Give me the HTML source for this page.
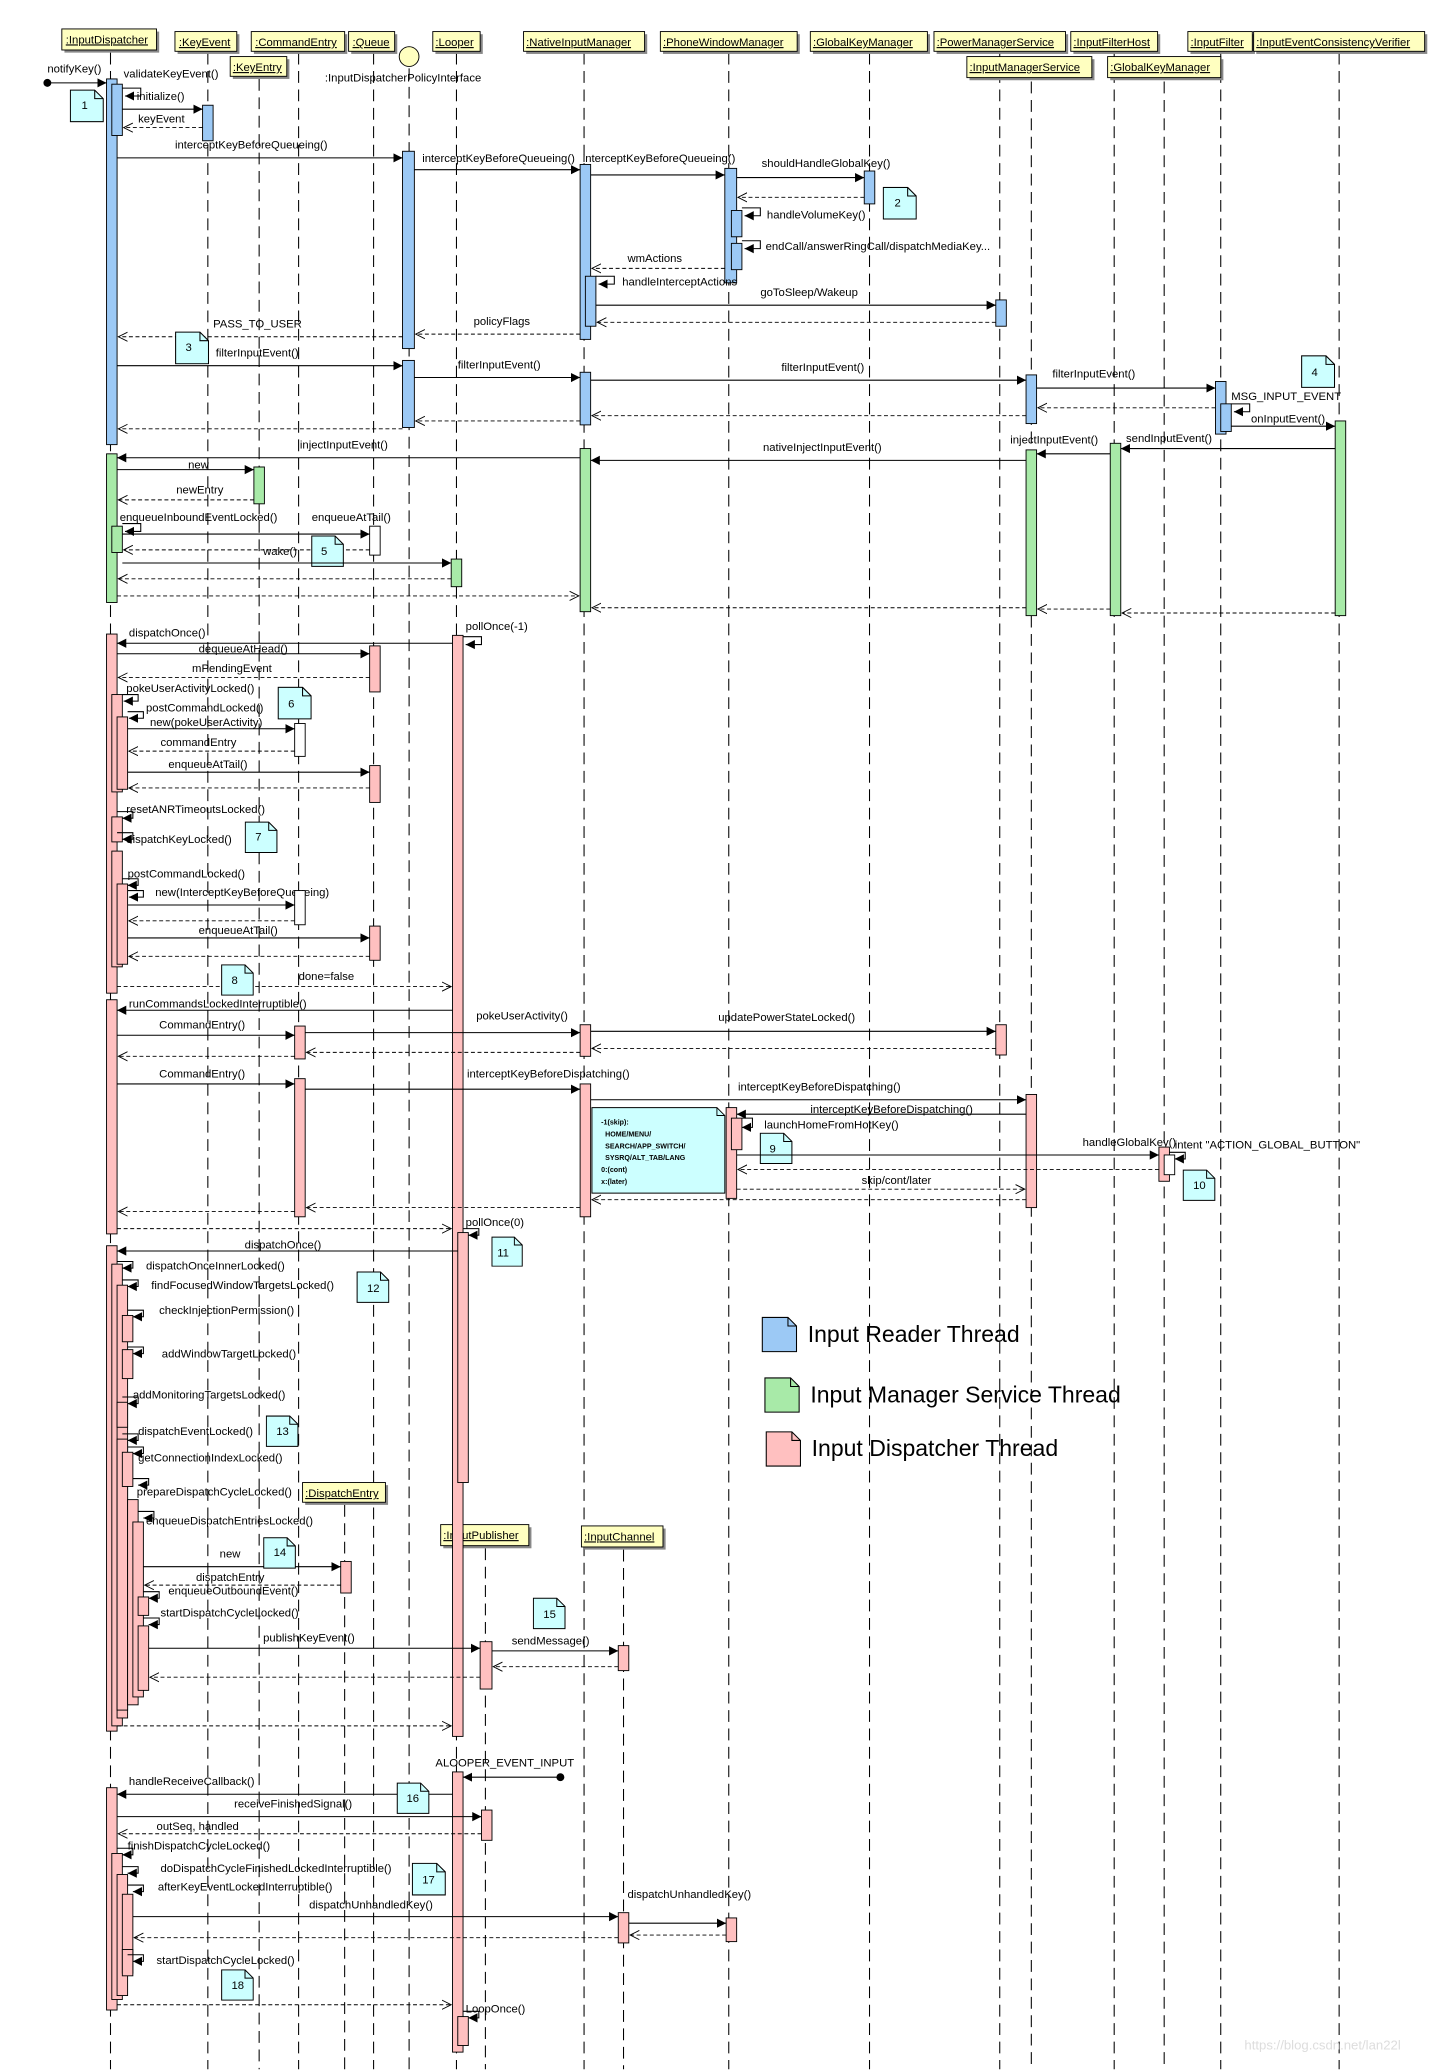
<!DOCTYPE html>
<html><head><meta charset="utf-8"><style>
html,body{margin:0;padding:0;background:#fff}
svg{display:block}
text{font-family:"Liberation Sans",sans-serif;font-size:8.6px;fill:#000}
.ll{stroke:#000;stroke-width:0.8;stroke-dasharray:9,5;fill:none}
.b{fill:#9cc9f5;stroke:#000;stroke-width:0.7}
.g{fill:#a8eaa8;stroke:#000;stroke-width:0.7}
.p{fill:#ffc0c0;stroke:#000;stroke-width:0.7}
.w{fill:#fff;stroke:#000;stroke-width:0.7}
.m{stroke:#000;stroke-width:0.8;fill:none;marker-end:url(#fa)}
.r{stroke:#000;stroke-width:0.7;fill:none;stroke-dasharray:3,2;marker-end:url(#oa)}
.n{fill:#ccffff;stroke:#000;stroke-width:0.7}
.hd{fill:#ffffc0;stroke:#000;stroke-width:0.7}
.sh{fill:#888}
.ht{text-decoration:underline;font-size:8.6px}
</style></head><body>
<svg width="1447" height="2070" viewBox="0 0 1100 1573.6" xmlns="http://www.w3.org/2000/svg">
<defs>
<marker id="fa" markerWidth="8" markerHeight="8" refX="7" refY="4" orient="auto" markerUnits="userSpaceOnUse"><path d="M0,0.5 L7,4 L0,7.5 z" fill="#000"/></marker>
<marker id="oa" markerWidth="8" markerHeight="8" refX="7" refY="4" orient="auto" markerUnits="userSpaceOnUse"><path d="M0,0.5 L7,4 L0,7.5" fill="none" stroke="#000" stroke-width="0.7"/></marker>
<symbol id="note" viewBox="0 0 26 25"><path d="M0.5,0.5 H19 L25.5,7 V24.5 H0.5 Z" fill="#ccffff" stroke="#000" stroke-width="0.8"/><path d="M19,0.5 V7 H25.5" fill="none" stroke="#000" stroke-width="0.8"/></symbol>
</defs>

<g class="ll">
<path d="M84,40V1573"/><path d="M158,40V1573"/><path d="M197,60V1573"/><path d="M227,40V1573"/><path d="M284,40V1573"/><path d="M311,52V1573"/><path d="M347,40V1573"/><path d="M444,40V1573"/><path d="M554,40V1573"/><path d="M661,40V1573"/><path d="M760,40V1573"/><path d="M784,62V1573"/><path d="M847,40V1573"/><path d="M885,62V1573"/><path d="M928,40V1573"/><path d="M1018,40V1573"/>
<path d="M262,1144V1573"/><path d="M369,1177V1573"/><path d="M474,1178V1573"/>
</g>

<g>
<rect class="sh" x="49" y="24" width="72" height="16"/><rect class="hd" x="47" y="22" width="72" height="16"/><text class="ht" x="50" y="33">:InputDispatcher</text>
<rect class="sh" x="135" y="26" width="47" height="15"/><rect class="hd" x="133" y="24" width="47" height="15"/><text class="ht" x="136" y="35">:KeyEvent</text>
<rect class="sh" x="193" y="26" width="71" height="15"/><rect class="hd" x="191" y="24" width="71" height="15"/><text class="ht" x="194" y="35">:CommandEntry</text>
<rect class="sh" x="267" y="26" width="35" height="15"/><rect class="hd" x="265" y="24" width="35" height="15"/><text class="ht" x="268" y="35">:Queue</text>
<rect class="sh" x="177" y="45" width="43" height="15"/><rect class="hd" x="175" y="43" width="43" height="15"/><text class="ht" x="177" y="54">:KeyEntry</text>
<circle cx="311" cy="43" r="7.5" fill="#ffffc0" stroke="#000" stroke-width="0.7"/><text x="247" y="62">:InputDispatcherPolicyInterface</text>
<rect class="sh" x="331" y="26" width="36" height="15"/><rect class="hd" x="329" y="24" width="36" height="15"/><text class="ht" x="331" y="35">:Looper</text>
<rect class="sh" x="400" y="26" width="92" height="15"/><rect class="hd" x="398" y="24" width="92" height="15"/><text class="ht" x="400" y="35">:NativeInputManager</text>
<rect class="sh" x="504" y="26" width="104" height="15"/><rect class="hd" x="502" y="24" width="104" height="15"/><text class="ht" x="504" y="35">:PhoneWindowManager</text>
<rect class="sh" x="618" y="26" width="89" height="15"/><rect class="hd" x="616" y="24" width="89" height="15"/><text class="ht" x="618" y="35">:GlobalKeyManager</text>
<rect class="sh" x="712" y="26" width="100" height="15"/><rect class="hd" x="710" y="24" width="100" height="15"/><text class="ht" x="712" y="35">:PowerManagerService</text>
<rect class="sh" x="816" y="26" width="66" height="15"/><rect class="hd" x="814" y="24" width="66" height="15"/><text class="ht" x="816" y="35">:InputFilterHost</text>
<rect class="sh" x="737" y="45" width="95" height="16"/><rect class="hd" x="735" y="43" width="95" height="16"/><text class="ht" x="737" y="54">:InputManagerService</text>
<rect class="sh" x="844" y="45" width="86" height="16"/><rect class="hd" x="842" y="43" width="86" height="16"/><text class="ht" x="844" y="54">:GlobalKeyManager</text>
<rect class="sh" x="905" y="26" width="49" height="15"/><rect class="hd" x="903" y="24" width="49" height="15"/><text class="ht" x="905" y="35">:InputFilter</text>
<rect class="sh" x="955" y="26" width="130" height="15"/><rect class="hd" x="953" y="24" width="130" height="15"/><text class="ht" x="955" y="35">:InputEventConsistencyVerifier</text>
<rect class="sh" x="232" y="1129" width="63" height="15"/><rect class="hd" x="230" y="1127" width="63" height="15"/><text class="ht" x="232" y="1138">:DispatchEntry</text>
<rect class="sh" x="337" y="1161" width="67" height="16"/><rect class="hd" x="335" y="1159" width="67" height="16"/><text class="ht" x="337" y="1170">:InputPublisher</text>
<rect class="sh" x="444" y="1162" width="62" height="16"/><rect class="hd" x="442" y="1160" width="62" height="16"/><text class="ht" x="444" y="1171">:InputChannel</text>
</g>

<circle cx="36" cy="63" r="3" fill="#000"/><path class="m" d="M36,63H81"/><text x="36" y="55">notifyKey()</text>
<rect class="b" x="81" y="60" width="8" height="278"/>
<rect class="b" x="85" y="64" width="8" height="39"/>
<path class="m" d="M93,67h14v6h-12"/><text x="94" y="59">validateKeyEvent()</text>
<use href="#note" x="53" y="68" width="26" height="25"/><text x="62" y="83">1</text>
<path class="m" d="M93,83H154"/><text x="104" y="76">initialize()</text>
<rect class="b" x="154" y="80" width="8" height="27"/>
<path class="r" d="M154,97H94"/><text x="105" y="93">keyEvent</text>
<path class="m" d="M89,120H306"/><text x="133" y="113">interceptKeyBeforeQueueing()</text>
<rect class="b" x="306" y="115" width="9" height="150"/>
<path class="m" d="M315,129H441"/><text x="321" y="123">interceptKeyBeforeQueueing()</text>
<rect class="b" x="441" y="125" width="8" height="133"/>
<path class="m" d="M449,133H551"/><text x="443" y="123">interceptKeyBeforeQueueing()</text>
<rect class="b" x="551" y="128" width="9" height="87"/>
<path class="m" d="M560,135H657"/><text x="579" y="127">shouldHandleGlobalKey()</text>
<rect class="b" x="657" y="130" width="8" height="25"/>
<path class="r" d="M657,150H561"/>
<use href="#note" x="671" y="142" width="26" height="25"/><text x="680" y="157">2</text>
<rect class="b" x="556" y="160" width="8" height="20"/><path class="m" d="M564,158h14v6h-12"/><text x="583" y="166">handleVolumeKey()</text>
<rect class="b" x="556" y="185" width="8" height="20"/><path class="m" d="M564,183h14v6h-12"/><text x="582" y="190">endCall/answerRingCall/dispatchMediaKey...</text>
<path class="r" d="M551,204H450"/><text x="477" y="199">wmActions</text>
<rect class="b" x="445" y="210" width="8" height="38"/><path class="m" d="M453,210h14v6h-12"/><text x="473" y="217">handleInterceptActions</text>
<path class="m" d="M453,232H757"/><text x="578" y="225">goToSleep/Wakeup</text>
<rect class="b" x="757" y="228" width="8" height="20"/>
<path class="r" d="M757,245H454"/>
<path class="r" d="M441,254H316"/><text x="360" y="247">policyFlags</text>
<path class="r" d="M306,256H90"/><text x="162" y="249">PASS_TO_USER</text>
<use href="#note" x="133" y="252" width="26" height="25"/><text x="141" y="267">3</text>
<path class="m" d="M89,278H306"/><text x="164" y="271">filterInputEvent()</text>
<rect class="b" x="306" y="274" width="9" height="51"/>
<path class="m" d="M315,287H441"/><text x="348" y="280">filterInputEvent()</text>
<rect class="b" x="441" y="283" width="8" height="40"/>
<path class="m" d="M449,289H780"/><text x="594" y="282">filterInputEvent()</text>
<rect class="b" x="780" y="285" width="8" height="37"/>
<path class="m" d="M788,295H924"/><text x="800" y="287">filterInputEvent()</text>
<rect class="b" x="924" y="290" width="8" height="40"/>
<use href="#note" x="989" y="270" width="26" height="25"/><text x="997" y="286">4</text>
<rect class="b" x="928" y="307" width="8" height="21"/><path class="m" d="M936,307h14v6h-12"/><text x="936" y="304">MSG_INPUT_EVENT</text>
<path class="m" d="M936,324H1015"/><text x="951" y="321">onInputEvent()</text>
<path class="r" d="M924,310H789"/><path class="r" d="M780,316H450"/><path class="r" d="M441,320H316"/><path class="r" d="M306,326H90"/>

<rect class="g" x="1015" y="320" width="8" height="148"/>
<path class="m" d="M1015,341H852"/><text x="856" y="336">sendInputEvent()</text>
<rect class="g" x="844" y="337" width="8" height="131"/>
<path class="m" d="M844,345H788"/><text x="768" y="337">injectInputEvent()</text>
<rect class="g" x="780" y="342" width="8" height="126"/>
<path class="m" d="M780,350H449"/><text x="580" y="343">nativeInjectInputEvent()</text>
<rect class="g" x="441" y="341" width="8" height="124"/>
<path class="m" d="M441,348H89"/><text x="228" y="341">injectInputEvent()</text>
<rect class="g" x="81" y="345" width="8" height="113"/>
<path class="m" d="M89,357H193"/><text x="143" y="356">new</text>
<rect class="g" x="193" y="355" width="8" height="28"/>
<path class="r" d="M193,380H90"/><text x="134" y="375">newEntry</text>
<rect class="g" x="85" y="400" width="8" height="20"/><path class="m" d="M93,398h14v6h-12"/><text x="91" y="396">enqueueInboundEventLocked()</text>
<path class="m" d="M93,406H281"/><text x="237" y="396">enqueueAtTail()</text>
<rect class="w" x="281" y="400" width="8" height="22"/>
<path class="r" d="M281,418H94"/>
<use href="#note" x="236" y="407" width="26" height="24"/><text x="244" y="422">5</text>
<path class="m" d="M93,428H343"/><text x="200" y="422">wake()</text>
<rect class="g" x="343" y="425" width="8" height="21"/>
<path class="r" d="M343,440H90"/><path class="r" d="M89,453H440"/>
<path class="r" d="M780,462H450"/><path class="r" d="M844,463H789"/><path class="r" d="M1015,466H853"/>

<rect class="p" x="81" y="482" width="8" height="273"/>
<rect class="p" x="344" y="483" width="8" height="837"/>
<path class="m" d="M352,484h14v6h-12"/><text x="354" y="479">pollOnce(-1)</text>
<path class="m" d="M344,489H89"/><text x="98" y="484">dispatchOnce()</text>
<path class="m" d="M89,497H281"/><text x="151" y="496">dequeueAtHead()</text>
<rect class="p" x="281" y="491" width="8" height="35"/>
<path class="r" d="M281,515H90"/><text x="146" y="511">mPendingEvent</text>
<rect class="p" x="85" y="528" width="8" height="74"/><path class="m" d="M93,528h12v5h-11"/><text x="96" y="526">pokeUserActivityLocked()</text>
<rect class="p" x="89" y="545" width="8" height="55"/><path class="m" d="M97,541h12v5h-11"/><text x="111" y="541">postCommandLocked()</text>
<path class="m" d="M97,554H224"/><text x="114" y="552">new(pokeUserActivity)</text>
<rect class="w" x="224" y="550" width="8" height="25"/>
<use href="#note" x="211" y="522" width="26" height="25"/><text x="219" y="538">6</text>
<path class="r" d="M224,571H98"/><text x="122" y="567">commandEntry</text>
<path class="m" d="M97,587H281"/><text x="128" y="584">enqueueAtTail()</text>
<rect class="p" x="281" y="582" width="8" height="28"/>
<path class="r" d="M281,599H98"/>
<rect class="p" x="85" y="621" width="8" height="19"/><path class="m" d="M89,617h12v5h-8"/><text x="96" y="618">resetANRTimeoutsLocked()</text>
<rect class="p" x="85" y="647" width="8" height="88"/><path class="m" d="M89,633h12v5h-8"/><text x="96" y="641">dispatchKeyLocked()</text>
<use href="#note" x="186" y="624" width="25" height="25"/><text x="194" y="639">7</text>
<rect class="p" x="89" y="672" width="8" height="61"/><path class="m" d="M93,668h12v5h-8"/><text x="97" y="667">postCommandLocked()</text>
<path class="m" d="M97,677h12v5h-11"/><text x="118" y="681">new(InterceptKeyBeforeQueueing)</text>
<path class="m" d="M97,688H224"/>
<rect class="w" x="224" y="677" width="8" height="26"/>
<path class="r" d="M224,700H98"/>
<path class="m" d="M97,713H281"/><text x="151" y="710">enqueueAtTail()</text>
<rect class="p" x="281" y="704" width="8" height="26"/>
<path class="r" d="M281,727H98"/>
<path class="r" d="M89,750H343"/><text x="227" y="745">done=false</text>
<use href="#note" x="168" y="733" width="25" height="24"/><text x="176" y="748">8</text>

<rect class="p" x="81" y="760" width="8" height="178"/>
<path class="m" d="M344,768H89"/><text x="98" y="766">runCommandsLockedInterruptible()</text>
<path class="m" d="M89,787H224"/><text x="121" y="782">CommandEntry()</text>
<rect class="p" x="224" y="780" width="8" height="25"/>
<path class="m" d="M232,785H441"/><text x="362" y="775">pokeUserActivity()</text>
<rect class="p" x="441" y="779" width="8" height="24"/>
<path class="m" d="M449,784H757"/><text x="546" y="776">updatePowerStateLocked()</text>
<rect class="p" x="757" y="779" width="8" height="23"/>
<path class="r" d="M757,797H450"/><path class="r" d="M441,800H233"/><path class="r" d="M224,803H90"/>
<path class="m" d="M89,824H224"/><text x="121" y="819">CommandEntry()</text>
<rect class="p" x="224" y="820" width="8" height="105"/>
<path class="m" d="M232,828H441"/><text x="355" y="819">interceptKeyBeforeDispatching()</text>
<rect class="p" x="441" y="824" width="8" height="101"/>
<path class="m" d="M449,836H780"/><text x="561" y="829">interceptKeyBeforeDispatching()</text>
<rect class="p" x="780" y="832" width="8" height="86"/>
<path class="m" d="M780,847H560"/><text x="616" y="846">interceptKeyBeforeDispatching()</text>
<path d="M450,842H545L551,848V907H450Z" fill="#ccffff" stroke="#000" stroke-width="0.7"/><path d="M545,842V848H551" fill="none" stroke="#000" stroke-width="0.7"/>
<g style="font-weight:bold"><text x="457" y="855" style="font-size:5.4px">-1(skip):</text><text x="460" y="864" style="font-size:5.4px">HOME/MENU/</text><text x="460" y="873" style="font-size:5.4px">SEARCH/APP_SWITCH/</text><text x="460" y="882" style="font-size:5.4px">SYSRQ/ALT_TAB/LANG</text><text x="457" y="891" style="font-size:5.4px">0:(cont)</text><text x="457" y="900" style="font-size:5.4px">x:(later)</text></g>
<rect class="p" x="552" y="842" width="8" height="69"/>
<rect class="p" x="556" y="850" width="8" height="24"/><path class="m" d="M564,850h8v7h-8"/><text x="581" y="858">launchHomeFromHotKey()</text>
<use href="#note" x="577" y="861" width="26" height="24"/><text x="585" y="876">9</text>
<path class="m" d="M560,878H881"/><text x="823" y="871">handleGlobalKey()</text>
<rect class="p" x="881" y="872" width="8" height="26"/>
<rect class="w" x="885" y="878" width="8" height="15"/><path class="m" d="M889,876h12v5h-8"/><text x="893" y="873">intent "ACTION_GLOBAL_BUTTON"</text>
<use href="#note" x="899" y="889" width="25" height="24"/><text x="907" y="904">10</text>
<path class="r" d="M881,889H561"/>
<path class="r" d="M560,904H779"/><text x="655" y="900">skip/cont/later</text>
<path class="r" d="M780,912H450"/><path class="r" d="M441,918H233"/><path class="r" d="M224,921H90"/>
<path class="r" d="M89,934H343"/>

<rect class="p" x="348" y="937" width="8" height="190"/><path class="m" d="M352,934h12v5h-8"/><text x="354" y="932">pollOnce(0)</text>
<use href="#note" x="373" y="940" width="25" height="23"/><text x="378" y="955">11</text>
<rect class="p" x="81" y="947" width="8" height="369"/>
<path class="m" d="M348,951H89"/><text x="186" y="949">dispatchOnce()</text>
<rect class="p" x="85" y="961" width="8" height="351"/><path class="m" d="M89,959h12v5h-8"/><text x="111" y="965">dispatchOnceInnerLocked()</text>
<rect class="p" x="89" y="977" width="8" height="329"/><path class="m" d="M93,973h12v5h-8"/><text x="115" y="980">findFocusedWindowTargetsLocked()</text>
<use href="#note" x="271" y="966" width="25" height="25"/><text x="279" y="982">12</text>
<rect class="p" x="93" y="1000" width="8" height="20"/><path class="m" d="M97,996h12v5h-8"/><text x="121" y="999">checkInjectionPermission()</text>
<rect class="p" x="93" y="1026" width="8" height="22"/><path class="m" d="M97,1024h12v5h-8"/><text x="123" y="1032">addWindowTargetLocked()</text>
<rect class="p" x="89" y="1066" width="8" height="19"/><path class="m" d="M93,1062h12v5h-8"/><text x="101" y="1063">addMonitoringTargetsLocked()</text>
<rect class="p" x="89" y="1094" width="8" height="206"/><path class="m" d="M93,1090h12v5h-8"/><text x="105" y="1091">dispatchEventLocked()</text>
<use href="#note" x="202" y="1076" width="25" height="24"/><text x="210" y="1091">13</text>
<rect class="p" x="93" y="1104" width="8" height="26"/><path class="m" d="M97,1100h12v5h-8"/><text x="105" y="1111">getConnectionIndexLocked()</text>
<rect class="p" x="97" y="1140" width="8" height="156"/><path class="m" d="M101,1124h12v5h-8"/><text x="104" y="1137">prepareDispatchCycleLocked()</text>
<rect class="p" x="101" y="1157" width="8" height="133"/><path class="m" d="M105,1149h12v5h-8"/><text x="111" y="1159">enqueueDispatchEntriesLocked()</text>
<path class="m" d="M109,1191H259"/><text x="167" y="1184">new</text>
<rect class="p" x="259" y="1187" width="8" height="24"/>
<use href="#note" x="200" y="1168" width="25" height="25"/><text x="208" y="1183">14</text>
<path class="r" d="M259,1205H110"/><text x="149" y="1202">dispatchEntry</text>
<rect class="p" x="105" y="1214" width="8" height="14"/><path class="m" d="M109,1210h12v5h-8"/><text x="128" y="1212">enqueueOutboundEvent()</text>
<rect class="p" x="105" y="1236" width="8" height="49"/><path class="m" d="M109,1230h12v5h-8"/><text x="122" y="1229">startDispatchCycleLocked()</text>
<path class="m" d="M113,1253H365"/><text x="200" y="1248">publishKeyEvent()</text>
<rect class="p" x="365" y="1248" width="9" height="36"/>
<path class="m" d="M374,1255H470"/><text x="389" y="1250">sendMessage()</text>
<rect class="p" x="470" y="1251" width="8" height="19"/>
<use href="#note" x="405" y="1214" width="25" height="25"/><text x="413" y="1230">15</text>
<path class="r" d="M470,1267H375"/><path class="r" d="M365,1275H114"/>
<path class="r" d="M89,1312H343"/>

<circle cx="426" cy="1351" r="3" fill="#000"/><path class="m" d="M426,1351H352"/><text x="331" y="1343">ALOOPER_EVENT_INPUT</text>
<rect class="p" x="344" y="1347" width="8" height="213"/>
<path class="m" d="M344,1364H89"/><text x="98" y="1357">handleReceiveCallback()</text>
<rect class="p" x="81" y="1359" width="8" height="169"/>
<use href="#note" x="301" y="1355" width="26" height="24"/><text x="309" y="1370">16</text>
<path class="m" d="M89,1381H366"/><text x="178" y="1374">receiveFinishedSignal()</text>
<rect class="p" x="366" y="1376" width="8" height="23"/>
<path class="r" d="M366,1394H90"/><text x="119" y="1391">outSeq, handled</text>
<rect class="p" x="85" y="1409" width="8" height="111"/><path class="m" d="M89,1405h12v5h-8"/><text x="97" y="1406">finishDispatchCycleLocked()</text>
<rect class="p" x="89" y="1425" width="8" height="92"/><path class="m" d="M93,1419h12v5h-8"/><text x="122" y="1423">doDispatchCycleFinishedLockedInterruptible()</text>
<rect class="p" x="93" y="1440" width="8" height="60"/><path class="m" d="M97,1433h12v5h-8"/><text x="120" y="1437">afterKeyEventLockedInterruptible()</text>
<use href="#note" x="313" y="1416" width="26" height="25"/><text x="321" y="1432">17</text>
<path class="m" d="M101,1457H470"/><text x="235" y="1451">dispatchUnhandledKey()</text>
<rect class="p" x="470" y="1454" width="8" height="23"/>
<path class="m" d="M478,1462H552"/><text x="477" y="1443">dispatchUnhandledKey()</text>
<rect class="p" x="552" y="1458" width="8" height="18"/>
<path class="r" d="M552,1471H479"/><path class="r" d="M470,1473H102"/>
<rect class="p" x="93" y="1482" width="8" height="20"/><path class="m" d="M97,1486h12v5h-8"/><text x="119" y="1493">startDispatchCycleLocked()</text>
<use href="#note" x="168" y="1497" width="25" height="24"/><text x="176" y="1512">18</text>
<path class="r" d="M89,1524H343"/>
<rect class="p" x="348" y="1533" width="8" height="22"/><path class="m" d="M352,1529h12v5h-8"/><text x="354" y="1530">LoopOnce()</text>

<path d="M579.5,1001.5H599L605.5,1008V1027.5H579.5Z" fill="#9cc9f5" stroke="#000" stroke-width="0.8"/><path d="M599,1001.5V1008H605.5" fill="none" stroke="#000" stroke-width="0.8"/>
<text x="614" y="1020" style="font-size:17.5px">Input Reader Thread</text>
<path d="M581.5,1047.5H601L607.5,1054V1073.5H581.5Z" fill="#a8eaa8" stroke="#000" stroke-width="0.8"/><path d="M601,1047.5V1054H607.5" fill="none" stroke="#000" stroke-width="0.8"/>
<text x="616" y="1066" style="font-size:17.5px">Input Manager Service Thread</text>
<path d="M582.5,1088.5H602L608.5,1095V1114.5H582.5Z" fill="#ffc0c0" stroke="#000" stroke-width="0.8"/><path d="M602,1088.5V1095H608.5" fill="none" stroke="#000" stroke-width="0.8"/>
<text x="617" y="1107" style="font-size:17.5px">Input Dispatcher Thread</text>

<text x="946" y="1558" style="font-size:10px;fill:#ddd">https://blog.csdn.net/lan22l</text>
</svg>
</body></html>
